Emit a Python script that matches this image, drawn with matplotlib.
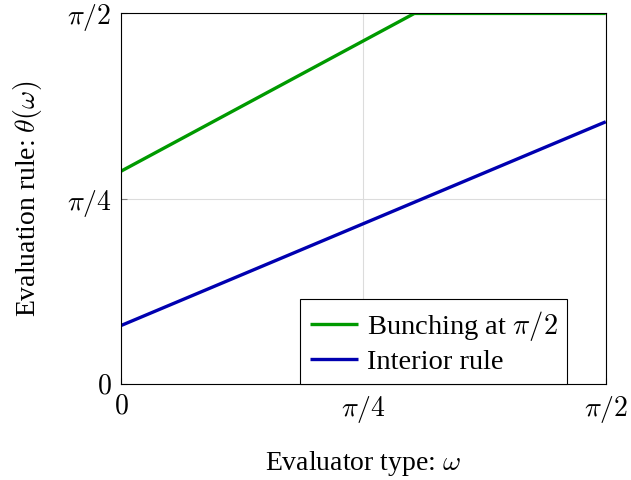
import matplotlib.pyplot as plt
import numpy as np

plt.rcParams['font.family'] = ['Liberation Serif', 'DejaVu Serif']
plt.rcParams['mathtext.fontset'] = 'cm'

# Data (omega and theta in units of pi/2)
omega_bunch = [0.0, 0.605, 1.0]
theta_bunch = [0.575, 1.0, 1.0]
omega_interior = [0.0, 1.0]
theta_interior = [0.159, 0.708]

tick_vals = [0, np.pi / 4, np.pi / 2]
tick_labels = ['$0$', r'$\pi/4$', r'$\pi/2$']

fig = plt.figure(figsize=(6.31, 4.8), dpi=100)
ax = fig.add_axes([0.192, 0.199, 0.768, 0.773])

scale = np.pi / 2
ax.plot(np.array(omega_bunch) * scale, np.array(theta_bunch) * scale,
        color='#009a00', lw=2.4, label=r'Bunching at $\pi/2$', solid_capstyle='butt')
ax.plot(np.array(omega_interior) * scale, np.array(theta_interior) * scale,
        color='#0000b0', lw=2.4, label='Interior rule', solid_capstyle='butt')

ax.set_xlim(0, scale)
ax.set_ylim(0, scale)
ax.set_xticks(tick_vals)
ax.set_xticklabels(tick_labels)
ax.set_yticks(tick_vals)
ax.set_yticklabels(tick_labels)
ax.tick_params(direction='in', length=4, color='#808080', labelsize=20, pad=7)
ax.grid(True, color='#dcdcdc', lw=0.8)
ax.set_axisbelow(True)
for s in ax.spines.values():
    s.set_linewidth(0.8)

ax.set_xlabel(r'Evaluator type: $\omega$', fontsize=20, labelpad=17)
ax.set_ylabel(r'Evaluation rule: $\theta(\omega)$', fontsize=20, labelpad=16)

leg = ax.legend(loc='lower right', bbox_to_anchor=(0.921, 0.0), fontsize=20.5,
                fancybox=False, framealpha=1, edgecolor='black',
                handlelength=1.7, handletextpad=0.3, borderpad=0.35,
                labelspacing=0.2, borderaxespad=0)
leg.get_frame().set_linewidth(0.8)

fig.savefig('out.png', dpi=100)
